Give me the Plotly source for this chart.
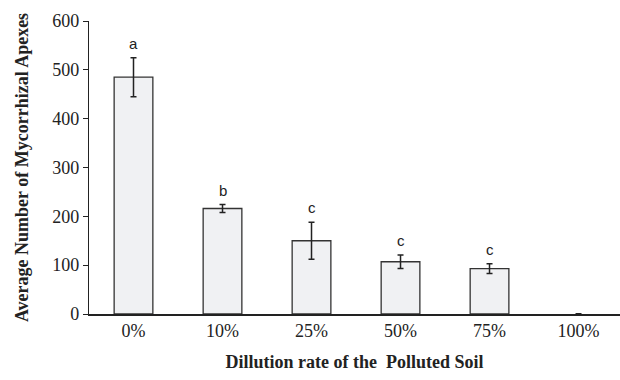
import plotly.graph_objects as go

categories = ["0%", "10%", "25%", "50%", "75%", "100%"]
mean_apexes = [485, 216, 150, 107, 93, 0]
std_error = [40, 8, 38, 14, 10, 0.6]
group_letters = ["a", "b", "c", "c", "c", ""]

serif = "Liberation Serif, Times New Roman, serif"

fig = go.Figure()
fig.add_trace(go.Bar(
    x=categories,
    y=mean_apexes,
    marker=dict(color="#f0f1f3",
                line=dict(color="#333333",
                          width=[1.3 if v > 0 else 0 for v in mean_apexes])),
    error_y=dict(type="data", array=std_error, visible=True,
                 color="#222222", thickness=1.5, width=3),
    width=0.435,
    showlegend=False,
))

for cat, val, err, letter in zip(categories, mean_apexes, std_error, group_letters):
    if letter:
        fig.add_annotation(
            x=cat, y=val + err, text=letter, showarrow=False,
            yanchor="bottom", yshift=4,
            font=dict(family="Liberation Sans, Arial, sans-serif", size=15, color="#222222"),
        )

fig.update_layout(
    width=620, height=380,
    margin=dict(l=89, r=0, t=21, b=66),
    paper_bgcolor="white", plot_bgcolor="white",
    font=dict(family=serif, color="#222222"),
    xaxis=dict(
        type="category", range=[-0.5, 5.466],
        showline=True, linecolor="#222222", linewidth=1.5,
        ticks="", showgrid=False,
        tickfont=dict(size=18, family=serif),
        title=dict(text="<b>Dillution rate of the&nbsp; Polluted Soil</b>",
                   font=dict(size=18, family=serif),
                   standoff=15),
    ),
    yaxis=dict(
        range=[0, 600], dtick=100,
        showline=True, linecolor="#222222", linewidth=1.2,
        ticks="outside", ticklen=5, tickcolor="#222222", tickwidth=1,
        showgrid=False, zeroline=False,
        tickfont=dict(size=18, family=serif),
        title=dict(text="<b>Average Number of Mycorrhizal Apexes</b>",
                   font=dict(size=18, family=serif),
                   standoff=18),
    ),
)

fig.write_html("out.html")
